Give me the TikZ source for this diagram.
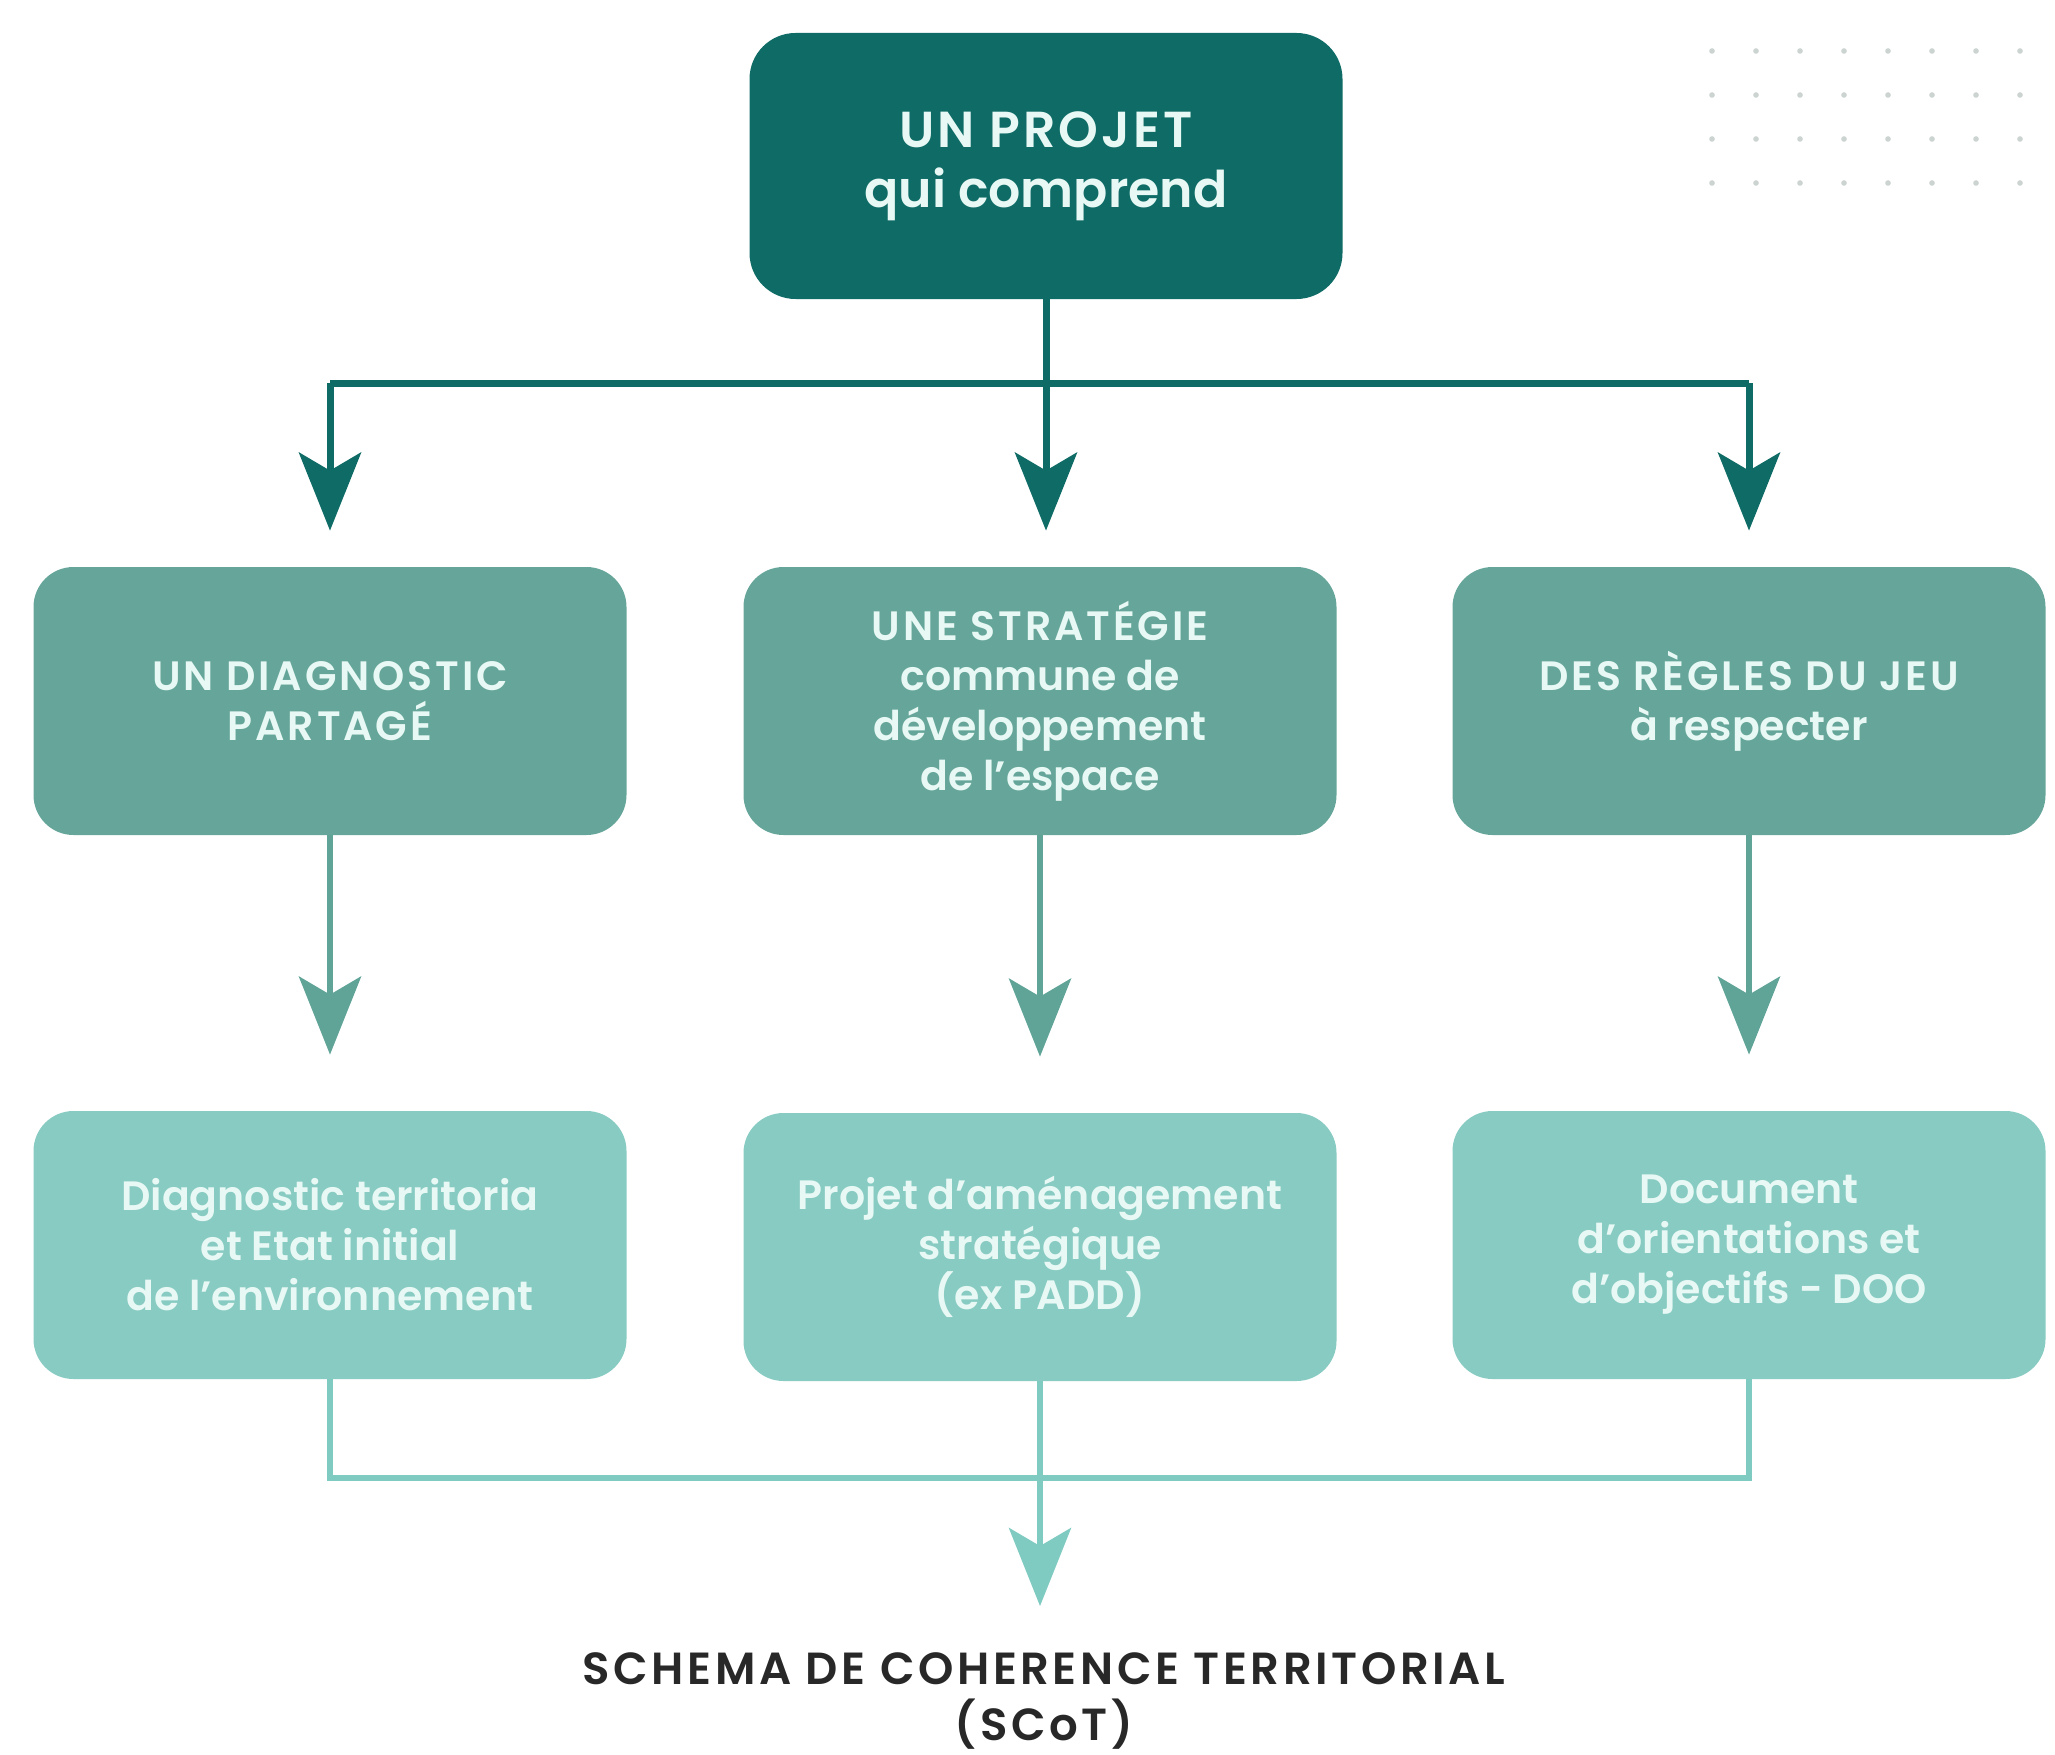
\documentclass[tikz,border=0pt]{standalone}
\usepackage{fontspec}
\usetikzlibrary{arrows.meta}
\setmainfont{Poppins}
\IfFontExistsTF{Poppins SemiBold}{%
  \newfontfamily\boxfont{Poppins SemiBold}%
  \newfontfamily\capsfont{Poppins SemiBold}[LetterSpace=7]%
  \newfontfamily\topcaps{Poppins SemiBold}[LetterSpace=6]%
  \newfontfamily\titlefont{Poppins SemiBold}[LetterSpace=8]%
}{%
  \newfontfamily\boxfont{Poppins}%
  \newfontfamily\capsfont{Poppins}[LetterSpace=7]%
  \newfontfamily\topcaps{Poppins}[LetterSpace=6]%
  \newfontfamily\titlefont{Poppins}[LetterSpace=8,FakeBold=1.5]%
}
\definecolor{tealA}{RGB}{14,107,102}
\definecolor{tealB}{RGB}{102,166,154}
\definecolor{tealBarrow}{RGB}{96,164,152}
\definecolor{tealC}{RGB}{135,203,194}
\definecolor{tealCarrow}{RGB}{127,202,193}
\definecolor{boxtext}{RGB}{232,248,244}
\definecolor{darktext}{RGB}{40,40,40}
\definecolor{dotgray}{RGB}{204,212,210}
\begin{document}
\begin{tikzpicture}[x=0.5pt,y=-0.5pt,
  box/.style={rounded corners=20pt, minimum width=296.5pt, minimum height=134pt,
    align=center, text=boxtext, inner sep=0pt, font=\boxfont\fontsize{20.5}{25}\selectfont},
  topbox/.style={box, fill=tealA, rounded corners=23pt, minimum height=133pt,
    font=\boxfont\fontsize{25.3}{30}\selectfont},
  midbox/.style={box, fill=tealB},
  lowbox/.style={box, fill=tealC},
  lineA/.style={draw=tealA, line width=3.5pt},
  lineB/.style={draw=tealBarrow, line width=3.2pt},
  lineC/.style={draw=tealCarrow, line width=3pt},
  tip/.style={-{Stealth[length=39pt,width=31pt,inset=9pt]}},
]
\useasboundingbox (0,0) rectangle (2055,1755);

% faint dot pattern
\foreach \i in {0,...,8} \foreach \j in {0,...,3}
  \fill[dotgray] (1712+44*\i,51+44*\j) circle (1.4pt);

\node[topbox] (top) at (1046,166) {{\topcaps UN PROJET}\\qui comprend};

\node[midbox] (m1) at (330,701) {{\capsfont UN DIAGNOSTIC}\\{\capsfont PARTAGÉ}};
\node[midbox] (m2) at (1040,701) {{\capsfont UNE STRATÉGIE}\\commune de\\développement\\de l’espace};
\node[midbox] (m3) at (1749,701) {{\capsfont DES RÈGLES DU JEU}\\à respecter};

\node[lowbox] (b1) at (330,1245) {Diagnostic territoria\\et Etat initial\\de l’environnement};
\node[lowbox] (b2) at (1040,1247) {Projet d’aménagement\\stratégique\\(ex PADD)};
\node[lowbox] (b3) at (1749,1245) {Document\\d’orientations et\\d’objectifs - DOO};

\node[anchor=north, inner sep=0pt, align=center, text=darktext,
  font=\titlefont\fontsize{22.5}{28}\selectfont] (scot) at (1044,1652)
  {SCHEMA DE COHERENCE TERRITORIAL\\(SCoT)};

\coordinate (hA) at (0,383);
\coordinate (hC) at (0,1478);

% top connectors
\draw[lineA] (m1.north |- hA) -- (m3.north |- hA);
\draw[lineA, tip, shorten >=18pt] (top.south) -- (top.south |- m2.north);
\draw[lineA, tip, shorten >=18pt] (m1.north |- hA) -- (m1.north);
\draw[lineA, tip, shorten >=18pt] (m3.north |- hA) -- (m3.north);

% middle connectors
\draw[lineB, tip, shorten >=28pt] (m1.south) -- (b1.north);
\draw[lineB, tip, shorten >=28pt] (m2.south) -- (b2.north);
\draw[lineB, tip, shorten >=28pt] (m3.south) -- (b3.north);

% bottom connectors
\draw[lineC] (b1.south) -- (b1.south |- hC) -- (b3.south |- hC) -- (b3.south);
\draw[lineC, tip, shorten >=23pt] (b2.south) -- (b2.south |- scot.north);
\end{tikzpicture}
\end{document}
